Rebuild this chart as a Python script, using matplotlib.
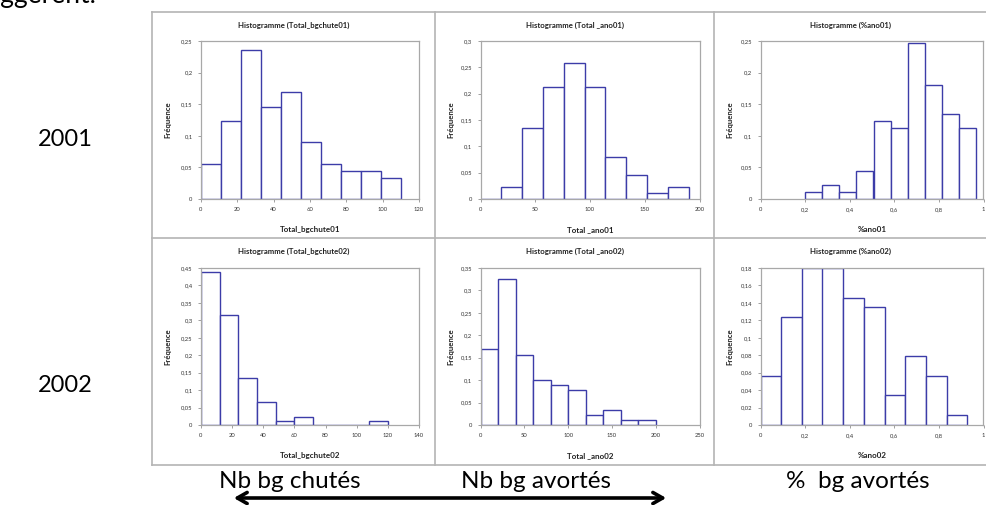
import matplotlib
matplotlib.use('Agg')
import matplotlib.pyplot as plt
from matplotlib.ticker import FuncFormatter, MultipleLocator
from matplotlib.lines import Line2D
from matplotlib.patches import FancyArrowPatch

plt.rcParams['font.family'] = ['Lato', 'DejaVu Sans']

W, H = 986, 505

# ---- data (frequencies) ----
edges_bgchute01 = [0, 11, 22, 33, 44, 55, 66, 77, 88, 99]
freq_bgchute01 = [0.056, 0.124, 0.236, 0.146, 0.169, 0.090, 0.056, 0.045, 0.045, 0.034]

edges_ano01 = [0, 19, 38, 57, 76, 95, 114, 133, 152, 171]
freq_ano01 = [0.0, 0.022, 0.135, 0.213, 0.258, 0.213, 0.079, 0.045, 0.011, 0.022]

edges_pano01 = [0.200, 0.277, 0.353, 0.430, 0.507, 0.583, 0.660, 0.737, 0.813, 0.890]
freq_pano01 = [0.011, 0.022, 0.011, 0.045, 0.124, 0.112, 0.247, 0.180, 0.135, 0.112]

edges_bgchute02 = [0, 12, 24, 36, 48, 60, 72, 84, 96, 108]
freq_bgchute02 = [0.438, 0.315, 0.135, 0.067, 0.011, 0.022, 0.0, 0.0, 0.0, 0.011]

edges_ano02 = [0, 20, 40, 60, 80, 100, 120, 140, 160, 180]
freq_ano02 = [0.169, 0.326, 0.157, 0.101, 0.090, 0.079, 0.022, 0.034, 0.011, 0.011]

edges_pano02 = [0.0, 0.093, 0.186, 0.278, 0.371, 0.464, 0.557, 0.650, 0.742, 0.835]
freq_pano02 = [0.056, 0.124, 0.180, 0.180, 0.146, 0.135, 0.034, 0.079, 0.056, 0.011]

row_labels = ['2001', '2002']
col_labels = ['Nb bg chutés', 'Nb bg avortés', '%  bg avortés']

# name, edges, freqs, bin width, xmax, xstep, ymax, ystep
charts = [
    ('Total_bgchute01', edges_bgchute01, freq_bgchute01, 11, 120, 20, 0.25, 0.05),
    ('Total _ano01', edges_ano01, freq_ano01, 19, 200, 50, 0.3, 0.05),
    ('%ano01', edges_pano01, freq_pano01, 0.0767, 1, 0.2, 0.25, 0.05),
    ('Total_bgchute02', edges_bgchute02, freq_bgchute02, 12, 140, 20, 0.45, 0.05),
    ('Total _ano02', edges_ano02, freq_ano02, 20, 250, 50, 0.35, 0.05),
    ('%ano02', edges_pano02, freq_pano02, 0.0928, 1, 0.2, 0.18, 0.02),
]

# pixel layout of the screenshot grid
col_x = [152, 435, 714, 1000]
row_y = [12, 238, 465]
plot_x = [(201, 419), (480.5, 699.5), (760.5, 983.5)]
plot_y = [(41, 199), (268, 425)]

bar_col = '#3c3ca8'
grid_col = '#b4b4b4'

fig = plt.figure(figsize=(W / 100, H / 100), dpi=100)


def fx(x):
    return x / W


def fy(y):
    return 1 - y / H


def comma(v, pos):
    return ('%g' % round(v, 4)).replace('.', ',')


for i, (name, edges, freqs, bw, xmax, xstep, ymax, ystep) in enumerate(charts):
    r, c = divmod(i, 3)
    x0, x1 = plot_x[c]
    y0, y1 = plot_y[r]
    ax = fig.add_axes([fx(x0), fy(y1), (x1 - x0) / W, (y1 - y0) / H])
    ax.bar(edges, freqs, width=bw, align='edge', facecolor='white',
           edgecolor=bar_col, linewidth=1.0, zorder=2)
    ax.set_xlim(0, xmax)
    ax.set_ylim(0, ymax)
    ax.xaxis.set_major_locator(MultipleLocator(xstep))
    ax.yaxis.set_major_locator(MultipleLocator(ystep))
    ax.xaxis.set_major_formatter(FuncFormatter(comma))
    ax.yaxis.set_major_formatter(FuncFormatter(comma))
    ax.tick_params(labelsize=4.2, length=2, width=0.6, color='#909090',
                   labelcolor='#333333', pad=4)
    for s in ax.spines.values():
        s.set_color('#a8a8a8')
        s.set_linewidth(0.9)
    ax.set_xlabel(name, fontsize=5.8, fontweight='bold', color='#222222')
    ax.xaxis.set_label_coords(0.5, -(27 / (y1 - y0)))
    ax.set_ylabel('Fréquence', fontsize=5.6, fontweight='bold', color='#222222')
    ax.yaxis.set_label_coords(-((x0 - (col_x[c] + 19)) / (x1 - x0)), 0.5)
    # chart title centred on the chart area
    cx = (col_x[c] + col_x[c + 1]) / 2
    if c == 2:
        cx = 851
    fig.text(fx(cx), fy(row_y[r] + 13), 'Histogramme (%s)' % name,
             fontsize=5.6, fontweight='bold', color='#222222',
             ha='center', va='center')

# table lines
for x in col_x[:3]:
    fig.add_artist(Line2D([fx(x), fx(x)], [fy(row_y[0]), fy(row_y[2])],
                          color=grid_col, lw=1.2))
for y in row_y:
    fig.add_artist(Line2D([fx(col_x[0]), 1], [fy(y), fy(y)],
                          color=grid_col, lw=1.2))

# row labels
for lab, y in zip(row_labels, [140, 385]):
    fig.text(fx(65), fy(y), lab, fontsize=17, ha='center', va='center')

# column labels under the table
for lab, x in zip(col_labels, [290, 536, 858]):
    fig.text(fx(x), fy(482), lab, fontsize=17.5, ha='center', va='center')

fig.add_artist(FancyArrowPatch(
    (fx(231), fy(498)), (fx(669), fy(498)), transform=fig.transFigure,
    arrowstyle='<->,head_length=7,head_width=4', lw=2.6, color='black'))

# clipped end of a sentence above the grid
fig.text(fx(96), fy(3), 'suggèrent.', fontsize=19, ha='right', va='baseline')

fig.savefig('out.png', dpi=100)
